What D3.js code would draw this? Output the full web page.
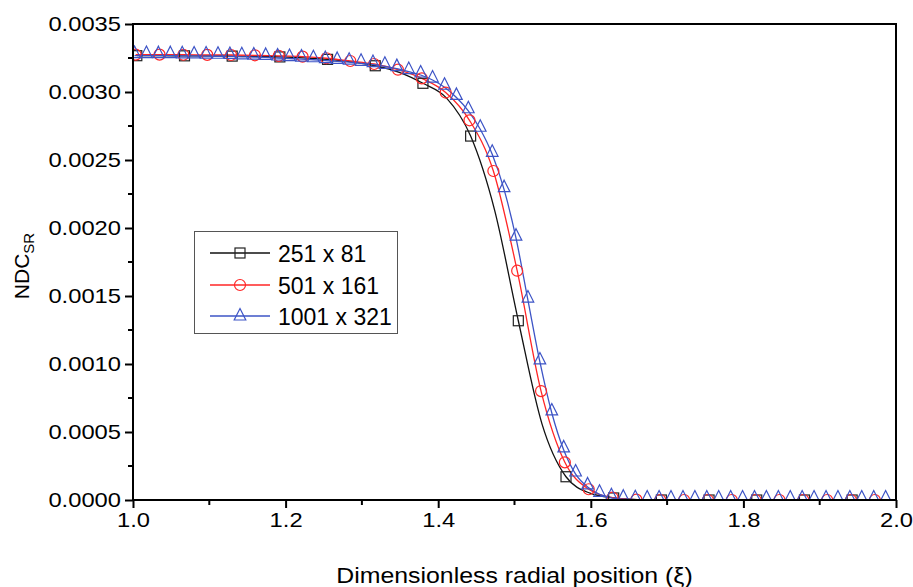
<!DOCTYPE html>
<html><head><meta charset="utf-8">
<script src="https://cdn.jsdelivr.net/npm/d3@7"></script>
<style>
html,body{margin:0;padding:0;background:#fff;}
text{font-family:"Liberation Sans",Arial,sans-serif;fill:#000;}
</style></head>
<body><svg id="c" width="913" height="587"></svg>
<script>
// ---- data ----
const seriesNames = ["251 x 81", "501 x 161", "1001 x 321"];
const xTicks = [1.0, 1.2, 1.4, 1.6, 1.8, 2.0];
const yTicks = [0.0000, 0.0005, 0.0010, 0.0015, 0.0020, 0.0025, 0.0030, 0.0035];

// 251 x 81 (black): line samples, markers on every 2nd sample
const blackX = [1.005,1.036,1.0675,1.099,1.130,1.161,1.1925,1.224,1.255,1.286,1.3175,1.349,1.380,1.411,1.4425,1.474,1.505,1.536,1.5675,1.599,1.630,1.661,1.6925,1.724,1.755,1.786,1.8175,1.849,1.880,1.911,1.9425,1.974];
const blackY = [0.003267,0.003267,0.003266,0.003265,0.003264,0.003262,0.003258,0.003251,0.003240,0.003222,0.003193,0.003145,0.003064,0.002955,0.002676,0.002130,0.001318,0.000560,0.000171,0.000050,0.000015,0.000003,0,0,0,0,0,0,0,0,0,0];

// 501 x 161 (red)
const redX = [1.0035,1.0348,1.066,1.0973,1.1285,1.1598,1.191,1.2223,1.2535,1.2848,1.316,1.3473,1.3785,1.4098,1.441,1.4723,1.5035,1.5348,1.566,1.5973,1.6285,1.6598,1.691,1.7223,1.7535,1.7848,1.816,1.8473,1.8785,1.9098,1.941,1.9723];
const redY = [0.003275,0.003275,0.003274,0.003273,0.003272,0.003270,0.003266,0.003260,0.003248,0.003228,0.003206,0.003164,0.003100,0.002996,0.002792,0.002419,0.001686,0.000801,0.000277,0.000079,0.000018,0.000003,0,0,0,0,0,0,0,0,0,0];

// 1001 x 321 (blue)
const blueX = [1.002,1.0176,1.0333,1.0489,1.0645,1.0801,1.0958,1.1114,1.127,1.1426,1.1583,1.1739,1.1895,1.2051,1.2208,1.2364,1.252,1.2676,1.2833,1.2989,1.3145,1.3301,1.3458,1.3614,1.377,1.3926,1.4083,1.4239,1.4395,1.4551,1.4708,1.4864,1.502,1.5176,1.5333,1.5489,1.5645,1.5801,1.5958,1.6114,1.627,1.6426,1.6583,1.6739,1.6895,1.7051,1.7208,1.7364,1.752,1.7676,1.7833,1.7989,1.8145,1.8301,1.8458,1.8614,1.877,1.8926,1.9083,1.9239,1.9395,1.9551,1.9708,1.9864];
const blueY = [0.003268,0.003268,0.003267,0.003267,0.003266,0.003265,0.003264,0.003263,0.003261,0.003259,0.003257,0.003254,0.003250,0.003246,0.003242,0.003237,0.003231,0.003225,0.003219,0.003211,0.003202,0.003189,0.003172,0.003150,0.003125,0.003088,0.003035,0.002960,0.002862,0.002726,0.002542,0.002282,0.001925,0.001470,0.001015,0.000640,0.000368,0.000191,0.000096,0.000042,0.000016,0.000006,0.000002,0,0,0,0,0,0,0,0,0,0,0,0,0,0,0,0,0,0,0,0,0];

// ---- chart ----
const svg = d3.select("#c");
const L = 133, R = 896, T = 24, B = 500;
const x = d3.scaleLinear().domain([1, 2]).range([L, R]);
const y = d3.scaleLinear().domain([0, 0.0035]).range([B, T]);

// horizontally widen text (reference glyphs are slightly wide)
function stretch(sel, k) {
  sel.each(function() {
    const w = this.getComputedTextLength();
    d3.select(this).attr("textLength", w * k).attr("lengthAdjust", "spacingAndGlyphs");
  });
}

svg.append("defs").append("clipPath").attr("id","clip")
  .append("rect").attr("x",L).attr("y",T).attr("width",R-L).attr("height",B-T);

const colors = ["#111111", "#ff2626", "#3d54c6"];
const line = d3.line().x(d=>x(d[0])).y(d=>y(d[1])).curve(d3.curveMonotoneX);

const series = [
  {xs: blackX, ys: blackY, every: 2, shape: "square"},
  {xs: redX, ys: redY, every: 1, shape: "circle"},
  {xs: blueX, ys: blueY, every: 1, shape: "triangle"}
];

function marker(g, shape, cx, cy, color) {
  if (shape === "square") {
    g.append("rect").attr("x",cx-5).attr("y",cy-5).attr("width",10).attr("height",10)
      .attr("fill","none").attr("stroke","#222").attr("stroke-width",1.2);
  } else if (shape === "circle") {
    g.append("circle").attr("cx",cx).attr("cy",cy).attr("r",5.5)
      .attr("fill","none").attr("stroke",color).attr("stroke-width",1.2);
  } else {
    g.append("path").attr("d",`M${cx},${cy-9.5}L${cx+5.8},${cy+2}L${cx-5.8},${cy+2}Z`)
      .attr("fill","none").attr("stroke",color).attr("stroke-width",1.2);
  }
}

const plot = svg.append("g").attr("clip-path","url(#clip)");
series.forEach((s, i) => {
  const pts = s.xs.map((v, j) => [v, s.ys[j]]);
  plot.append("path").datum(pts).attr("d", line).attr("fill","none")
    .attr("stroke", colors[i]).attr("stroke-width", 1.3);
});
series.forEach((s, i) => {
  s.xs.forEach((v, j) => {
    if (j % s.every === 0) marker(plot, s.shape, x(v), y(s.ys[j]), colors[i]);
  });
});

// axes
const xAxis = d3.axisBottom(x).tickValues(xTicks).tickFormat(d3.format(".1f")).tickSize(8).tickPadding(4);
const gx = svg.append("g").attr("transform",`translate(0,${B})`).call(xAxis);
const xMinor = d3.range(1.1, 2.0, 0.2);
gx.selectAll(".minor").data(xMinor).enter().append("line").attr("class","minor")
  .attr("x1",d=>x(d)).attr("x2",d=>x(d)).attr("y1",0).attr("y2",5).attr("stroke","#000").attr("stroke-width",2);

const yAxis = d3.axisLeft(y).tickValues(yTicks).tickFormat(d3.format(".4f")).tickSize(8).tickPadding(4);
const gy = svg.append("g").attr("transform",`translate(${L},0)`).call(yAxis);
const yMinor = d3.range(0.00025, 0.0035, 0.0005);
gy.selectAll(".minor").data(yMinor).enter().append("line").attr("class","minor")
  .attr("y1",d=>y(d)).attr("y2",d=>y(d)).attr("x1",0).attr("x2",-5).attr("stroke","#000").attr("stroke-width",2);

[gx, gy].forEach(g => {
  g.select(".domain").remove();
  g.selectAll(".tick line").attr("stroke","#000").attr("stroke-width",2);
  g.selectAll(".tick text").attr("font-size",21).attr("font-family","Liberation Sans, Arial, sans-serif").attr("fill","#000");
  stretch(g.selectAll(".tick text"), 1.13);
});

// frame
svg.append("rect").attr("x",L).attr("y",T).attr("width",R-L).attr("height",B-T)
  .attr("fill","none").attr("stroke","#000").attr("stroke-width",2);

// axis titles
const xt = svg.append("text").attr("x",(L+R)/2).attr("y",583).attr("text-anchor","middle")
  .attr("font-size",22).text("Dimensionless radial position (ξ)");
stretch(xt, 1.13);
const yt = svg.append("text").attr("transform",`translate(29,266) rotate(-90)`)
  .attr("text-anchor","middle").attr("font-size",21);
yt.append("tspan").text("NDC");
yt.append("tspan").attr("font-size",15).attr("dy",5).text("SR");

// legend
const lg = svg.append("g");
lg.append("rect").attr("x",194.5).attr("y",231.5).attr("width",203).attr("height",102)
  .attr("fill","#fff").attr("stroke","#555").attr("stroke-width",1);
const rowY = [253, 285, 316];
series.forEach((s, i) => {
  lg.append("line").attr("x1",210).attr("x2",270).attr("y1",rowY[i]).attr("y2",rowY[i])
    .attr("stroke",colors[i]).attr("stroke-width",1.3);
  marker(lg, s.shape, 240, rowY[i] + (s.shape==="triangle"?2:0), colors[i]);
  lg.append("text").attr("x",278).attr("y",rowY[i]+8.5).attr("font-size",23).text(seriesNames[i]);
});
</script></body></html>
